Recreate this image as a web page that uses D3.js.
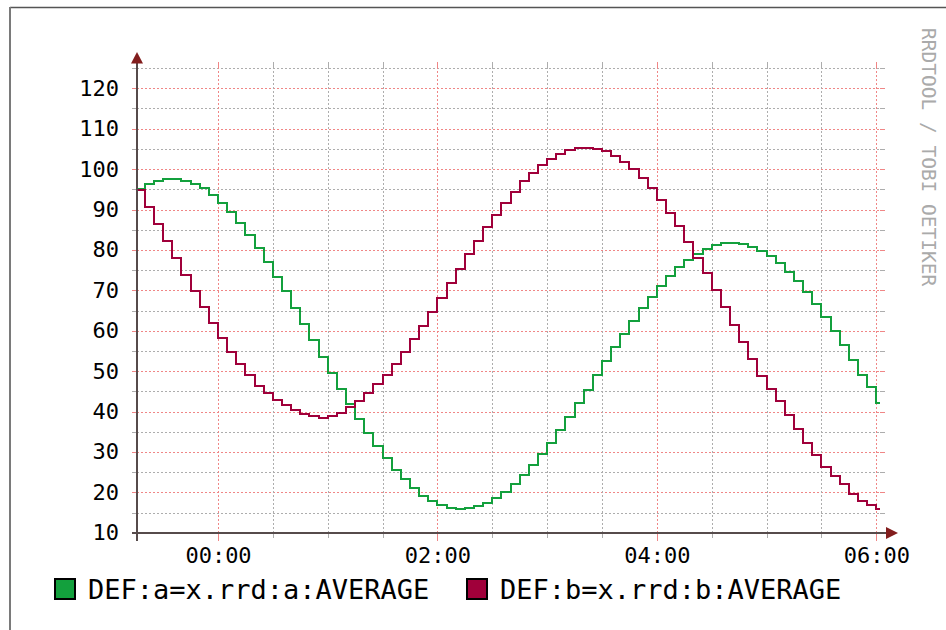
<!DOCTYPE html>
<html>
<head>
<meta charset="utf-8">
<script src="https://cdn.jsdelivr.net/npm/d3@7"></script>
<style>
  body { margin: 0; background: #fff; }
  text { font-family: "DejaVu Sans Mono", monospace; }
</style>
</head>
<body>
<div class="chart"></div>
<script>

// legend / series
var seriesNames = ["DEF:a=x.rrd:a:AVERAGE", "DEF:b=x.rrd:b:AVERAGE"];
var seriesColors = ["#13a03d", "#a0003a"];

// 5 minute steps, first one starts 45 min before 00:00
var stepStartMinutes = -45;
var stepMinutes = 5;

var valuesA = [
  95.0, 96.2, 97.1, 97.6, 97.6, 97.1, 96.2, 95.2, 93.6, 91.5,
  89.3, 86.6, 83.7, 80.4, 77.0, 73.4, 69.8, 65.7, 61.6, 57.7,
  53.5, 49.6, 45.5, 41.8, 38.2, 34.6, 31.4, 28.4, 25.5, 23.2,
  21.1, 19.1, 17.9, 16.8, 16.2, 15.8, 16.0, 16.6, 17.4, 18.7,
  20.1, 22.0, 24.3, 26.7, 29.4, 32.3, 35.4, 38.7, 42.0, 45.3,
  49.0, 52.5, 56.0, 59.2, 62.4, 65.5, 68.4, 71.1, 73.5, 75.7,
  77.5, 79.1, 80.3, 81.2, 81.8, 81.8, 81.5, 80.8, 79.8, 78.5,
  76.8, 74.6, 72.3, 69.6, 66.5, 63.3, 60.0, 56.4, 52.7, 49.0,
  46.0, 42.0
];

var valuesB = [
  94.8, 90.7, 86.4, 82.2, 77.9, 73.8, 69.8, 65.8, 61.8, 58.3,
  54.8, 51.7, 49.0, 46.4, 44.5, 42.8, 41.6, 40.4, 39.5, 38.8,
  38.5, 38.8, 39.6, 41.1, 42.7, 44.5, 46.8, 49.1, 51.7, 54.8,
  57.9, 61.2, 64.7, 68.2, 71.7, 75.2, 78.9, 82.2, 85.6, 88.6,
  91.6, 94.4, 97.0, 99.1, 101.1, 102.6, 103.8, 104.7, 105.2, 105.3,
  105.0, 104.5, 103.3, 101.8, 100.0, 97.9, 95.2, 92.3, 89.2, 85.9,
  82.0, 78.1, 74.2, 70.0, 65.8, 61.5, 57.1, 52.9, 48.8, 45.6,
  42.5, 39.2, 35.6, 32.3, 29.2, 26.3, 24.0, 22.0, 19.7, 17.9,
  16.8, 15.8
];

var yTickLabels = [10, 20, 30, 40, 50, 60, 70, 80, 90, 100, 110, 120];
var yMinorTicks = [15, 25, 35, 45, 55, 65, 75, 85, 95, 105, 115, 125];
var xTickLabels = ["00:00", "02:00", "04:00", "06:00"];

var watermark = "RRDTOOL / TOBI OETIKER";

var svgWidth = 946;
var svgHeight = 630;

var base = new Date(2000, 0, 1, 0, 0, 0);
function atMinute(m) {
  return new Date(base.getTime() + m * 60000);
}

var svg = d3
  .select(".chart")
  .append("svg")
  .attr("width", svgWidth)
  .attr("height", svgHeight);

svg.append("rect")
  .attr("width", svgWidth)
  .attr("height", svgHeight)
  .attr("fill", "#fff");

// frame (the image is cut, only top and left sides show)
svg.append("line")
  .attr("x1", 10).attr("x2", svgWidth)
  .attr("y1", 7.5).attr("y2", 7.5)
  .attr("stroke", "#555").attr("stroke-width", 1.5);
svg.append("line")
  .attr("x1", 10).attr("x2", 10)
  .attr("y1", 7).attr("y2", svgHeight)
  .attr("stroke", "#7a7a7a").attr("stroke-width", 2);

var x = d3.scaleTime()
  .domain([atMinute(0), atMinute(360)])
  .range([218, 876.3]);

var y = d3.scaleLinear()
  .domain([10, 120])
  .range([532.7, 88.3]);

var x0 = 137;
var x1 = 880;
var yTop = Math.round(y(126.3));
var yBottom = Math.round(y(10));

var grid = svg.append("g").attr("shape-rendering", "crispEdges");

var minorColor = "#adadad";
var majorColor = "#f08686";

function hLine(v, color) {
  var yy = Math.round(y(v)) + 0.5;
  grid.append("line")
    .attr("x1", x0).attr("x2", x1)
    .attr("y1", yy).attr("y2", yy)
    .attr("stroke", color)
    .attr("stroke-dasharray", "2,2");
  grid.append("line")
    .attr("x1", x0 - 5).attr("x2", x0)
    .attr("y1", yy).attr("y2", yy)
    .attr("stroke", color);
  grid.append("line")
    .attr("x1", x1).attr("x2", x1 + 5)
    .attr("y1", yy).attr("y2", yy)
    .attr("stroke", color);
}

function vLine(t, color, below) {
  var xx = Math.round(x(t)) + 0.5;
  grid.append("line")
    .attr("x1", xx).attr("x2", xx)
    .attr("y1", yTop).attr("y2", yBottom)
    .attr("stroke", color)
    .attr("stroke-dasharray", "2,2");
  grid.append("line")
    .attr("x1", xx).attr("x2", xx)
    .attr("y1", yTop - 1).attr("y2", yTop + 4)
    .attr("stroke", color);
  grid.append("line")
    .attr("x1", xx).attr("x2", xx)
    .attr("y1", yBottom).attr("y2", yBottom + below)
    .attr("stroke", color);
}

yMinorTicks.forEach(function(v) { hLine(v, minorColor); });
yTickLabels.forEach(function(v) {
  if (v > 10) hLine(v, majorColor);
});

var majorTimes = x.ticks(d3.timeHour.every(2));
var majorKeys = majorTimes.map(function(d) { return +d; });
x.ticks(d3.timeMinute.every(30)).forEach(function(t) {
  if (majorKeys.indexOf(+t) < 0) vLine(t, minorColor, 5);
});
majorTimes.forEach(function(t) { vLine(t, majorColor, 8); });

// series lines, clipped to the plot area
svg.append("clipPath")
  .attr("id", "plot-clip")
  .append("rect")
  .attr("x", x0).attr("y", yTop)
  .attr("width", x1 - x0).attr("height", yBottom - yTop);

function stepPoints(values) {
  var pts = values.map(function(v, i) {
    return { t: atMinute(stepStartMinutes + i * stepMinutes), v: v };
  });
  pts.push({
    t: atMinute(stepStartMinutes + values.length * stepMinutes),
    v: values[values.length - 1]
  });
  return pts;
}

// snap to whole pixels so the 2px steps stay crisp
var line = d3.line()
  .curve(d3.curveStepAfter)
  .x(function(d) { return Math.round(x(d.t)); })
  .y(function(d) { return Math.round(y(d.v)); });

var plot = svg.append("g").attr("clip-path", "url(#plot-clip)");

[valuesA, valuesB].forEach(function(values, i) {
  plot.append("path")
    .datum(stepPoints(values))
    .attr("d", line)
    .attr("fill", "none")
    .attr("stroke", seriesColors[i])
    .attr("stroke-width", 2)
    .attr("stroke-linejoin", "miter");
});

// axes labels
var leftAxis = d3.axisLeft(y)
  .tickValues(yTickLabels)
  .tickSize(0)
  .tickPadding(18);

svg.append("g")
  .attr("transform", "translate(" + x0 + ",0)")
  .call(leftAxis)
  .call(function(g) { g.select(".domain").remove(); })
  .selectAll("text")
  .attr("font-family", "DejaVu Sans Mono, monospace")
  .attr("font-size", 22)
  .attr("fill", "#000");

var bottomAxis = d3.axisBottom(x)
  .tickValues(xTickLabels.map(function(s) {
    return d3.timeParse("%H:%M")(s);
  }).map(function(d) {
    return atMinute(d.getHours() * 60 + d.getMinutes());
  }))
  .tickFormat(d3.timeFormat("%H:%M"))
  .tickSize(0)
  .tickPadding(14);

svg.append("g")
  .attr("transform", "translate(0," + yBottom + ")")
  .call(bottomAxis)
  .call(function(g) { g.select(".domain").remove(); })
  .selectAll("text")
  .attr("font-family", "DejaVu Sans Mono, monospace")
  .attr("font-size", 22)
  .attr("fill", "#000");

// axis lines with arrows
var axisColor = "#564b4b";
var arrowColor = "#821d1d";

svg.append("line")
  .attr("x1", x0).attr("x2", x0)
  .attr("y1", yBottom + 8).attr("y2", 62)
  .attr("stroke", axisColor).attr("stroke-width", 2);
svg.append("line")
  .attr("x1", x0 - 5).attr("x2", 888)
  .attr("y1", yBottom).attr("y2", yBottom)
  .attr("stroke", axisColor).attr("stroke-width", 2);

svg.append("path")
  .attr("d", "M" + (x0 - 6) + ",63.5L" + x0 + ",52L" + (x0 + 6) + ",63.5Z")
  .attr("fill", arrowColor);
svg.append("path")
  .attr("d", "M886," + (yBottom - 6) + "L898," + yBottom + "L886," + (yBottom + 6) + "Z")
  .attr("fill", arrowColor);

// legend
var legend = svg.append("g");
var legendX = [55, 467];

seriesNames.forEach(function(name, i) {
  legend.append("rect")
    .attr("x", legendX[i]).attr("y", 579)
    .attr("width", 20).attr("height", 20)
    .attr("fill", seriesColors[i])
    .attr("stroke", "#000")
    .attr("stroke-width", 2);
  legend.append("text")
    .attr("x", legendX[i] + 33)
    .attr("y", 599)
    .attr("font-size", 27)
    .attr("fill", "#000")
    .text(name);
});

// vertical watermark
svg.append("text")
  .attr("transform", "translate(922,28) rotate(90)")
  .attr("font-size", 19.5)
  .attr("fill", "#aaa")
  .text(watermark);

</script>
</body>
</html>
